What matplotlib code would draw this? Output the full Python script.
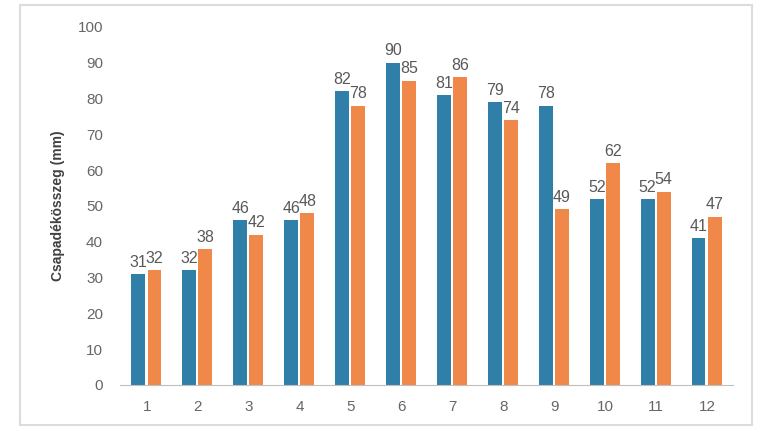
import numpy as np
import matplotlib
matplotlib.use("Agg")
import matplotlib.pyplot as plt
from matplotlib.patches import Rectangle

# Monatswerte
honapok = [1, 2, 3, 4, 5, 6, 7, 8, 9, 10, 11, 12]
sor_kek = [31, 32, 46, 46, 82, 90, 81, 79, 78, 52, 52, 41]
sor_narancs = [32, 38, 42, 48, 78, 85, 86, 74, 49, 62, 54, 47]

plt.rcParams['font.family'] = ['Liberation Sans Narrow', 'Liberation Sans', 'DejaVu Sans']

fig = plt.figure(figsize=(7.58, 4.33), dpi=100)
ax = fig.add_axes([0.158, 0.111, 0.809, 0.827])

# Rahmen um das Diagramm
fig.patches.append(Rectangle((20 / 758, 8 / 433), 732 / 758, 420 / 433,
                             transform=fig.transFigure, fill=False,
                             edgecolor='#dcdcdc', linewidth=1.5))

x = np.array(honapok)
breite = 0.27
b1 = ax.bar(x - 0.165, sor_kek, breite, color='#2f7fa8')
b2 = ax.bar(x + 0.15, sor_narancs, breite, color='#f0884a')

for balken in (b1, b2):
    for r in balken:
        ax.annotate(str(int(r.get_height())),
                    (r.get_x() + r.get_width() / 2, r.get_height()),
                    xytext=(0, 3), textcoords='offset points',
                    ha='center', va='bottom', fontsize=11.5, color='#595959')

ax.set_xlim(0.47, 12.51)
ax.set_ylim(0, 100)
ax.set_yticks(range(0, 101, 10))
ax.set_xticks(x)
ax.tick_params(length=0, labelsize=11, labelcolor='#666666')
ax.tick_params(axis='y', pad=12)
ax.tick_params(axis='x', pad=11)
for s in ['top', 'right', 'left']:
    ax.spines[s].set_visible(False)
ax.spines['bottom'].set_color('#bfbfbf')
ax.set_ylabel('Csapadékösszeg (mm)', fontsize=10, fontweight='bold',
              color='#404040', labelpad=9)

fig.savefig('out.png', dpi=100)
